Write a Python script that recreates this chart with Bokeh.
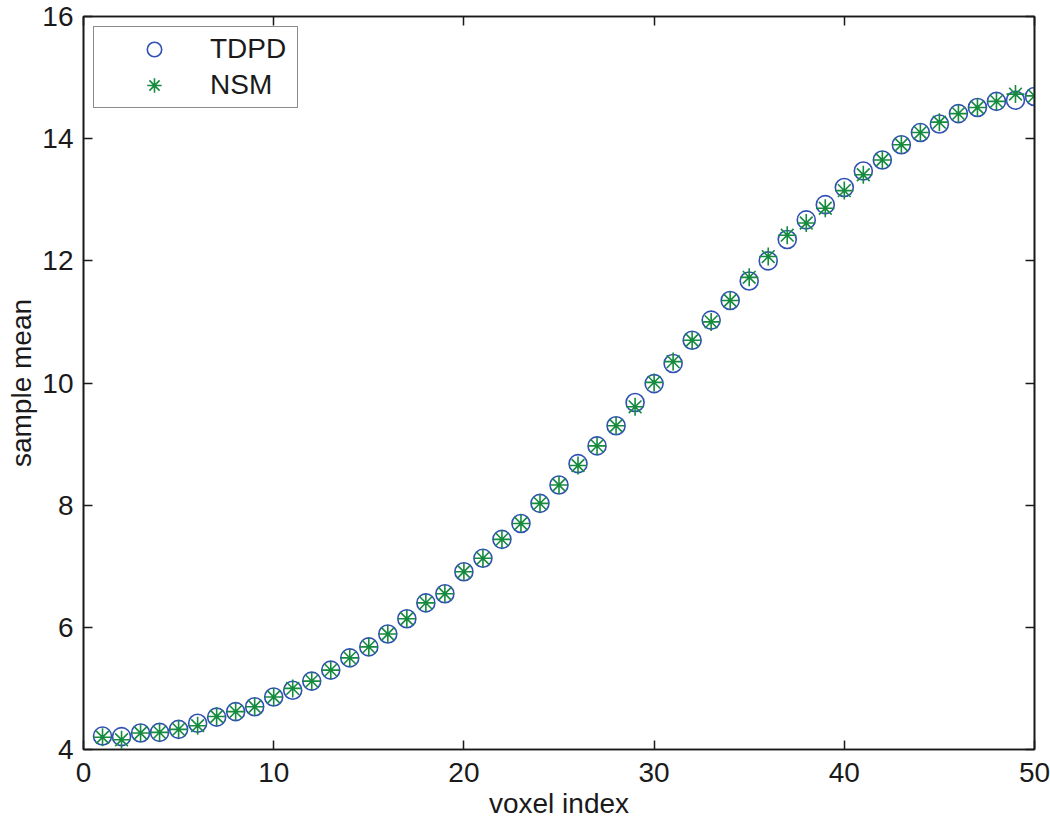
from bokeh.plotting import figure
from bokeh.models import LinearAxis, FixedTicker, Range1d, Legend, LegendItem
from bokeh.embed import file_html
from bokeh.resources import INLINE

voxel = list(range(1, 51))
tdpd = [4.22, 4.21, 4.27, 4.28, 4.33, 4.43, 4.53, 4.62, 4.70, 4.86,
        4.97, 5.12, 5.30, 5.50, 5.68, 5.89, 6.14, 6.40, 6.55, 6.91,
        7.13, 7.44, 7.70, 8.03, 8.33, 8.68, 8.97, 9.30, 9.68, 9.99,
        10.32, 10.70, 11.03, 11.35, 11.67, 12.00, 12.35, 12.67, 12.92, 13.20,
        13.47, 13.65, 13.90, 14.10, 14.24, 14.41, 14.51, 14.61, 14.63, 14.69]
nsm = [4.20, 4.16, 4.27, 4.28, 4.33, 4.39, 4.54, 4.62, 4.70, 4.86,
       5.00, 5.12, 5.30, 5.50, 5.68, 5.89, 6.14, 6.40, 6.55, 6.91,
       7.13, 7.44, 7.70, 8.03, 8.33, 8.65, 8.97, 9.30, 9.61, 10.01,
       10.35, 10.70, 11.00, 11.35, 11.73, 12.07, 12.42, 12.62, 12.86, 13.15,
       13.41, 13.65, 13.90, 14.10, 14.27, 14.41, 14.51, 14.61, 14.73, 14.70]
x_ticks = [0, 10, 20, 30, 40, 50]
y_ticks = [4, 6, 8, 10, 12, 14, 16]

FONT = "Liberation Sans"
FS = "28px"
INK = "#1a1a1a"
BLUE = "#3050b4"
GREEN = "#168a3e"

p = figure(width=1050, height=821, output_backend="svg", toolbar_location=None,
           x_range=Range1d(0, 50), y_range=Range1d(4, 16),
           min_border_left=83, min_border_right=16, min_border_top=16, min_border_bottom=71)
p.xgrid.visible = False
p.ygrid.visible = False
p.outline_line_color = INK
p.outline_line_width = 1.6

def style_axis(ax):
    ax.axis_line_color = INK
    ax.axis_line_width = 1.6
    ax.major_tick_line_color = INK
    ax.major_tick_line_width = 1.5
    ax.major_tick_in = 9
    ax.major_tick_out = 0
    ax.minor_tick_line_color = None
    ax.major_label_text_font = FONT
    ax.major_label_text_font_size = FS
    ax.major_label_text_color = INK
    ax.axis_label_text_font = FONT
    ax.axis_label_text_font_size = FS
    ax.axis_label_text_font_style = "normal"
    ax.axis_label_text_color = INK

p.xaxis.ticker = FixedTicker(ticks=x_ticks)
p.yaxis.ticker = FixedTicker(ticks=y_ticks)
p.xaxis.axis_label = "voxel index"
p.yaxis.axis_label = "sample mean"
style_axis(p.xaxis[0])
style_axis(p.yaxis[0])
p.xaxis.major_label_standoff = 13
p.yaxis.major_label_standoff = 10
p.xaxis.axis_label_standoff = 3
p.yaxis.axis_label_standoff = 2

top_ax = LinearAxis(ticker=FixedTicker(ticks=x_ticks),
                    major_label_overrides={t: "" for t in x_ticks})
right_ax = LinearAxis(ticker=FixedTicker(ticks=y_ticks),
                      major_label_overrides={t: "" for t in y_ticks})
for ax in (top_ax, right_ax):
    style_axis(ax)
    ax.major_label_text_font_size = "1px"
    ax.major_label_text_color = None
    ax.major_label_standoff = 0
p.add_layout(top_ax, "above")
p.add_layout(right_ax, "right")

r1 = p.scatter(voxel, tdpd, marker="circle", size=18, fill_color=None,
               line_color=BLUE, line_width=1.6)
r2 = p.scatter(voxel, nsm, marker="asterisk", size=18, line_color=GREEN, line_width=1.6)

legend = Legend(items=[LegendItem(label="TDPD", renderers=[r1]),
                       LegendItem(label="NSM", renderers=[r2])],
                location="top_left", margin=10, padding=4,
                glyph_width=112, glyph_height=36, label_height=36,
                label_width=83, label_standoff=0, spacing=0)
legend.label_text_font = FONT
legend.label_text_font_size = FS
legend.label_text_color = INK
legend.border_line_color = INK
legend.border_line_width = 1.6
legend.background_fill_color = "white"
legend.background_fill_alpha = 1
p.add_layout(legend, "center")

open("out.html", "w").write(file_html(p, INLINE))
